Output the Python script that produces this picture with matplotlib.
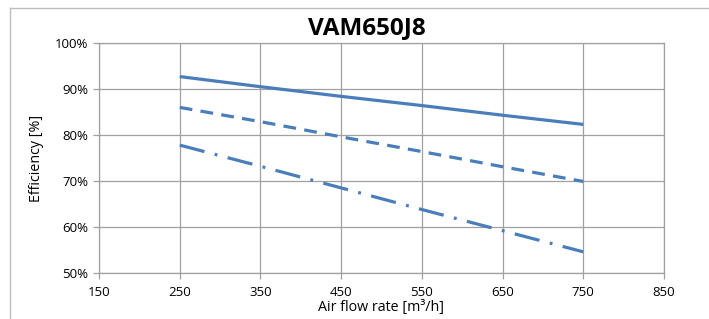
import matplotlib.pyplot as plt
from matplotlib.lines import Line2D
from matplotlib.ticker import FuncFormatter

# air flow rate [m3/h]
flow = [250, 350, 450, 550, 650, 750]

# efficiency [%]
eff_solid = [92.7, 90.5, 88.4, 86.4, 84.3, 82.3]
eff_dashed = [86.0, 82.9, 79.6, 76.4, 73.1, 69.9]
eff_dashdot = [77.8, 73.2, 68.5, 63.8, 59.2, 54.6]

x_ticks = [150, 250, 350, 450, 550, 650, 750, 850]
y_ticks = [50, 60, 70, 80, 90, 100]

color = "#4A7EBB"
grid_color = "#A0A0A0"

plt.rcParams["font.family"] = ["Open Sans", "DejaVu Sans"]

fig = plt.figure(figsize=(7.09, 3.19), dpi=100)
ax = fig.add_axes([99 / 709, 1 - 273 / 319, 565 / 709, 230 / 319])

ax.plot(flow, eff_solid, color=color, lw=2.3, solid_capstyle="butt")
ax.plot(flow, eff_dashed, color=color, lw=2.3, dashes=(4, 2.6))
ax.plot(flow, eff_dashdot, color=color, lw=2.3, dashes=(8, 3.3, 0.9, 3.3))

ax.set_xlim(150, 850)
ax.set_ylim(50, 100)
ax.set_xticks(x_ticks)
ax.set_yticks(y_ticks)
ax.yaxis.set_major_formatter(FuncFormatter(lambda v, p: f"{v:.0f}%"))
ax.grid(True, color=grid_color, lw=0.9)
ax.set_axisbelow(True)
for s in ax.spines.values():
    s.set_color(grid_color)
    s.set_linewidth(0.9)
ax.tick_params(colors=grid_color, labelcolor="black", labelsize=9.5,
               length=4, width=0.9)
ax.tick_params(axis="x", pad=5)

ax.set_xlabel("Air flow rate [m³/h]", fontsize=10.3, labelpad=1)
ax.set_ylabel("Efficiency [%]", fontsize=10.3, labelpad=8)

fig.text(367 / 709, 1 - 28 / 319, "VAM650J8", ha="center", va="center",
         fontsize=17.5, fontweight="bold")

# outer chart frame (left and top edges visible)
frame_kw = dict(color="#BEBEBE", lw=1.0, transform=fig.transFigure)
fig.add_artist(Line2D([9.5 / 709, 9.5 / 709], [0, 1 - 7.5 / 319], **frame_kw))
fig.add_artist(Line2D([9.5 / 709, 1], [1 - 7.5 / 319, 1 - 7.5 / 319], **frame_kw))

fig.savefig("out.png", dpi=100)
